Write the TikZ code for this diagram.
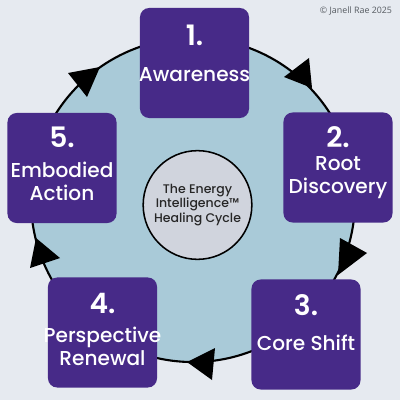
\documentclass[tikz,border=0pt]{standalone}
\usepackage{fontspec}
\setmainfont{Poppins}
\newfontfamily\popsemi{Poppins SemiBold}
\newfontfamily\popmed{Poppins Medium}
\newfontfamily\creditfont{Open Sans}
\definecolor{bg}{HTML}{E6EAF0}
\definecolor{ringblue}{HTML}{A9CAD8}
\definecolor{stagepurple}{HTML}{472A88}
\definecolor{hubgray}{HTML}{D0D4DD}
\definecolor{creditgray}{HTML}{555A60}

\begin{document}
\begin{tikzpicture}[x=0.025cm,y=-0.025cm]
		\tikzstyle{stage}=[fill=stagepurple,rounded corners=6.5pt,minimum width=2.725cm,minimum height=2.75cm]
		\tikzstyle{stagenum}=[text=white,inner sep=0pt,font=\popsemi\fontsize{20}{24}\selectfont]
		\tikzstyle{stagetext}=[text=white,inner sep=0pt,align=center,font=\popmed\fontsize{14.3}{16.3}\selectfont]
		\tikzstyle{tip}=[fill=black]
		
		\fill[bg] (0,0) rectangle (400,400);
		\node (R) at (193,200) [circle, draw, line width=1.5pt, fill=ringblue, minimum size=8.1cm] {};
		
		% arrowheads on the ring, clockwise
		\fill[tip] (312,88) -- (284,77) -- (309,58) -- cycle;
		\fill[tip] (338,275) -- (340,238) -- (367,253) -- cycle;
		\fill[tip] (187,362) -- (215,348) -- (212,380) -- cycle;
		\fill[tip] (36,238) -- (30,268) -- (60,258) -- cycle;
		\fill[tip] (100,67) -- (68,73) -- (87,97) -- cycle;
		
		\node (A) at (194.5,63) [stage] {};
		\node (B) at (338,167.5) [stage] {};
		\node (C) at (306,334.5) [stage] {};
		\node (D) at (102.5,332.5) [stage] {};
		\node (E) at (62,168) [stage] {};
		
		\node (A1) at (194.5,35) [stagenum] {1.};
		\node (A2) at (194.5,75) [stagetext] {Awareness};
		\node (B1) at (338,137) [stagenum] {2.};
		\node (B2) at (338,177.5) [stagetext] {Root\\Discovery};
		\node (C1) at (306,305) [stagenum] {3.};
		\node (C2) at (306,343) [stagetext] {Core Shift};
		\node (D1) at (102.5,303) [stagenum] {4.};
		\node (D2) at (102.5,346) [stagetext] {Perspective\\Renewal};
		\node (E1) at (62,137) [stagenum] {5.};
		\node (E2) at (62,181.5) [stagetext] {Embodied\\Action};
		
		\node (O) at (197.5,205) [circle, draw, line width=1.1pt, fill=hubgray, minimum size=2.5cm, align=center, text=black!85, font=\popmed\fontsize{8.9}{10.3}\selectfont] {The Energy\\Intelligence™\\Healing Cycle};
		
		\node (N) at (356,11) [text=creditgray, font=\creditfont\fontsize{6.3}{7.5}\selectfont] {© Janell Rae 2025};
		
\end{tikzpicture}
\end{document}
